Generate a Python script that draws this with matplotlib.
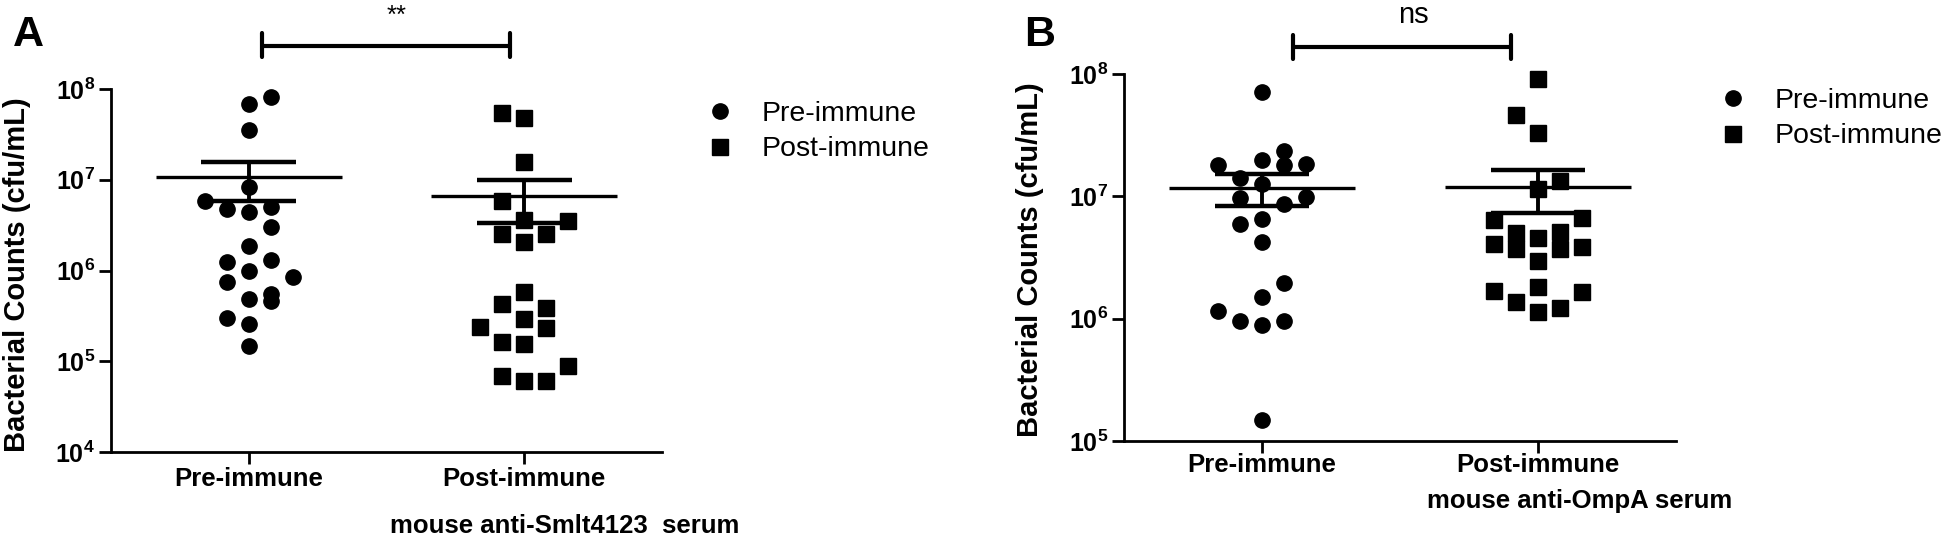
import matplotlib
matplotlib.use('Agg')
import matplotlib.pyplot as plt
import numpy as np
from matplotlib.lines import Line2D
from matplotlib.ticker import FixedLocator, FuncFormatter, NullLocator
import matplotlib.transforms as mtransforms

plt.rcParams['font.family'] = ['Liberation Sans', 'DejaVu Sans']
plt.rcParams['mathtext.fontset'] = 'custom'
plt.rcParams['mathtext.rm'] = 'Liberation Sans'
plt.rcParams['mathtext.bf'] = 'Liberation Sans:bold'
plt.rcParams['mathtext.it'] = 'Liberation Sans:italic'

groups = ['Pre-immune', 'Post-immune']
ylabel = 'Bacterial Counts (cfu/mL)'

# ---- Panel A (mouse anti-Smlt4123 serum), cfu/mL ----
a_pre = [8.1e7, 6.9e7, 3.5e7, 8.4e6, 5.9e6, 4.8e6, 4.4e6, 5.0e6, 3.0e6, 1.86e6,
         1.25e6, 1.31e6, 9.8e5, 8.4e5, 7.4e5, 4.9e5, 5.5e5, 4.6e5, 3.0e5, 2.6e5, 1.47e5]
a_pre_col = [1, 0, 0, 0, -2, -1, 0, 1, 1, 0, -1, 1, 0, 2, -1, 0, 1, 1, -1, 0, 0]
a_post = [5.4e7, 4.8e7, 1.55e7, 5.8e6, 3.6e6, 3.5e6, 2.55e6, 2.55e6, 2.06e6, 5.8e5,
          4.3e5, 3.85e5, 2.9e5, 2.36e5, 2.3e5, 1.63e5, 1.56e5, 8.8e4, 6.9e4, 6.0e4, 6.0e4]
a_post_col = [-1, 0, 0, -1, 0, 2, -1, 1, 0, 0, -1, 1, 0, -2, 1, -1, 0, 2, -1, 0, 1]
a_ticks = [1e4, 1e5, 1e6, 1e7, 1e8]
a_sig = '**'
a_xlabel = 'mouse anti-Smlt4123  serum'

# ---- Panel B (mouse anti-OmpA serum), cfu/mL ----
b_pre = [7.1e7, 2.35e7, 1.79e7, 1.97e7, 1.79e7, 1.84e7, 1.4e7, 1.25e7, 9.7e6, 9.9e6,
         8.6e6, 5.96e6, 6.5e6, 4.2e6, 1.97e6, 1.5e6, 1.15e6, 9.5e5, 8.95e5, 9.5e5, 1.49e5]
b_pre_col = [0, 1, -2, 0, 1, 2, -1, 0, -1, 2, 1, -1, 0, 0, 1, 0, -2, -1, 0, 1, 0]
b_post = [9.1e7, 4.6e7, 3.3e7, 1.34e7, 1.14e7, 6.4e6, 6.6e6, 5.0e6, 5.1e6, 4.6e6,
          4.05e6, 3.7e6, 3.7e6, 3.85e6, 2.98e6, 1.67e6, 1.81e6, 1.64e6, 1.36e6, 1.22e6, 1.13e6]
b_post_col = [0, -1, 0, 1, 0, -2, 2, -1, 1, 0, -2, -1, 1, 2, 0, -2, 0, 2, -1, 1, 0]
b_ticks = [1e5, 1e6, 1e7, 1e8]
b_sig = 'ns'
b_xlabel = 'mouse anti-OmpA serum'

W, H = 1946, 535
fig = plt.figure(figsize=(W / 100, H / 100), dpi=100)


def px_rect(l, t, r, b):
    return [l / W, (H - b) / H, (r - l) / W, (b - t) / H]


def panel(ax, pre, pre_col, post, post_col, ticks, xpad):
    step = 0.08
    for i, (vals, cols, mk) in enumerate([(pre, pre_col, 'o'), (post, post_col, 's')]):
        vals = np.asarray(vals)
        xs = i + np.asarray(cols) * step
        ax.plot(xs, vals, linestyle='none', marker=mk, ms=11, color='black',
                mec='black', zorder=3, clip_on=False)
        m = vals.mean()
        s = vals.std(ddof=1) / np.sqrt(len(vals))
        ax.hlines(m, i - 0.337, i + 0.337, color='black', lw=2.4, zorder=4)
        ax.hlines([m - s, m + s], i - 0.172, i + 0.172, color='black', lw=3.2, zorder=4)
        ax.vlines(i, m - s, m + s, color='black', lw=2.8, zorder=4)
    ax.set_yscale('log')
    ax.set_ylim(ticks[0], ticks[-1])
    ax.set_xlim(-0.5, 1.5)
    ax.yaxis.set_major_locator(FixedLocator(ticks))
    ax.yaxis.set_minor_locator(NullLocator())
    ax.yaxis.set_major_formatter(FuncFormatter(
        lambda v, p: r'$\mathbf{10^{%d}}$' % int(round(np.log10(v)))))
    ax.set_xticks([0, 1])
    ax.set_xticklabels(groups, fontsize=18.5, fontweight='bold')
    for sp in ['top', 'right']:
        ax.spines[sp].set_visible(False)
    for sp in ['left', 'bottom']:
        ax.spines[sp].set_linewidth(2.0)
    ax.tick_params(axis='both', direction='out', length=8.5, width=2.0)
    ax.tick_params(axis='y', labelsize=18, pad=3)
    ax.tick_params(axis='x', pad=xpad)


def bracket(ax, x0, x1, yl, yt0, yt1, label, ly, lsize):
    tr = mtransforms.blended_transform_factory(ax.transData, ax.transAxes)
    ax.plot([x0, x1], [yl, yl], color='black', lw=3.0, transform=tr, clip_on=False,
            solid_capstyle='butt')
    for xx in (x0, x1):
        ax.plot([xx, xx], [yt0, yt1], color='black', lw=3.0, transform=tr, clip_on=False,
                solid_capstyle='round')
    ax.text((x0 + x1) / 2 + 0.04, ly, label, transform=tr, ha='center', va='baseline',
            fontsize=lsize)


def legend(ax, x, y, fs):
    handles = [Line2D([], [], linestyle='none', marker='o', ms=11, color='black'),
               Line2D([], [], linestyle='none', marker='s', ms=11, color='black')]
    ax.legend(handles, groups, loc='center left', bbox_to_anchor=(x, y),
              bbox_transform=fig.transFigure, frameon=False, fontsize=fs,
              borderpad=0, borderaxespad=0, handlelength=1.0, handletextpad=0.96,
              labelspacing=0.35)


# Panel A
axA = fig.add_axes(px_rect(111, 89, 662, 452))
panel(axA, a_pre, a_pre_col, a_post, a_post_col, a_ticks, xpad=2)
axA.text(-0.171, 0.49, ylabel, transform=axA.transAxes, rotation=90, ha='center',
         va='center', fontsize=21, fontweight='bold')
bracket(axA, 0.047, 0.949, 1.119, 1.154, 1.088, a_sig, 1.182, 18.5)
legend(axA, 706 / W, (H - 131.5) / H, 20.5)
fig.text(565 / W, (H - 533) / H, a_xlabel, ha='center', va='baseline', fontsize=18.5,
         fontweight='bold')
fig.text(28 / W, (H - 35) / H, 'A', ha='center', va='center', fontsize=31,
         fontweight='bold')

# Panel B
axB = fig.add_axes(px_rect(1124, 74, 1676, 441))
panel(axB, b_pre, b_pre_col, b_post, b_post_col, b_ticks, xpad=0.5)
axB.text(-0.170, 0.493, ylabel, transform=axB.transAxes, rotation=90, ha='center',
         va='center', fontsize=21, fontweight='bold')
bracket(axB, 0.113, 0.902, 1.073, 1.106, 1.041, b_sig, 1.139, 21)
legend(axB, 1719 / W, (H - 118.5) / H, 20.5)
fig.text(1580 / W, (H - 508) / H, b_xlabel, ha='center', va='baseline', fontsize=18.5,
         fontweight='bold')
fig.text(1040 / W, (H - 35) / H, 'B', ha='center', va='center', fontsize=31,
         fontweight='bold')

fig.savefig('out.png', dpi=100)
